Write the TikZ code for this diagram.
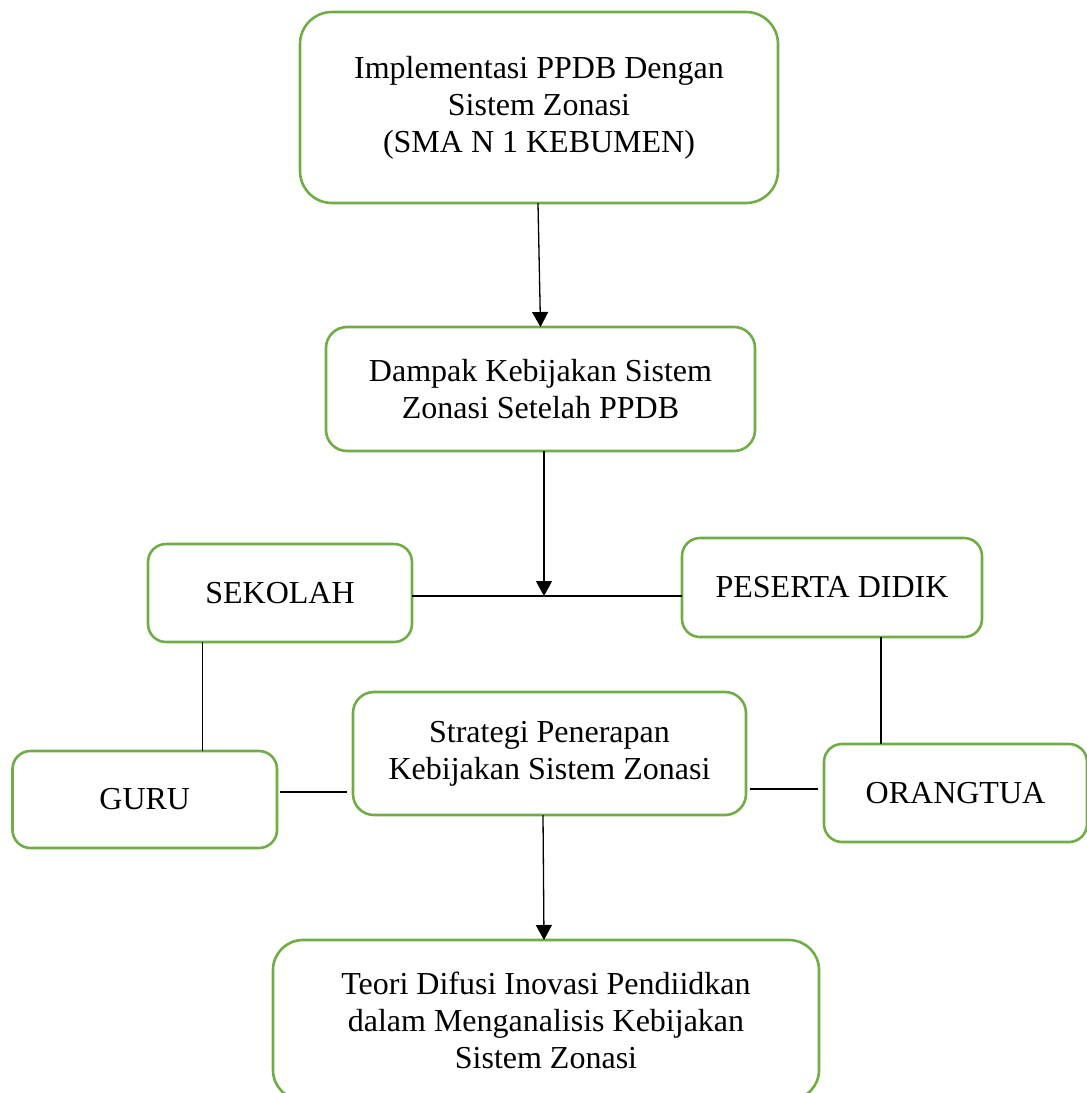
\documentclass[tikz,border=0pt]{standalone}
\usepackage{fontspec}
\setmainfont{Liberation Serif}
\usetikzlibrary{arrows.meta}
\definecolor{boxgreen}{HTML}{70AD47}
\begin{document}
\begin{tikzpicture}[x=1pt,y=-1pt,
  box/.style={draw=boxgreen, line width=2.6pt, rounded corners=#1, inner sep=0pt, outer sep=0pt,
              align=center, font=\fontsize{32}{37}\selectfont, text=black},
  box/.default=18pt,
  link/.style={draw=black, line width=1.3pt},
  arr/.style={link, -{Triangle[width=16pt,length=15pt]}}]
\useasboundingbox (0,0) rectangle (1087,1093);
\clip (0,0) rectangle (1087,1093);

\node[box=32pt, minimum width=478pt, minimum height=191pt] (top) at (539,107.5)
  {Implementasi PPDB Dengan\\Sistem Zonasi\\(SMA N 1 KEBUMEN)};
\node[box=21pt, minimum width=429pt, minimum height=124pt] (dampak) at (540.5,389)
  {Dampak Kebijakan Sistem\\Zonasi Setelah PPDB};
\node[box, minimum width=264pt, minimum height=98pt] (sekolah) at (280,593) {SEKOLAH};
\node[box, minimum width=300pt, minimum height=99pt] (peserta) at (832,587.5) {PESERTA DIDIK};
\node[box=21pt, minimum width=393pt, minimum height=123pt] (strat) at (549.5,753.5)
  {Strategi Penerapan\\Kebijakan Sistem Zonasi};
\node[box, minimum width=264.5pt, minimum height=97pt] (guru) at (144.75,799.5) {GURU};
\node[box, minimum width=263pt, minimum height=98pt] (orang) at (955.5,793) {ORANGTUA};
\node[box=30pt, minimum width=546pt, minimum height=160pt] (teori) at (546,1020)
  {Teori Difusi Inovasi Pendiidkan\\dalam Menganalisis Kebijakan\\Sistem Zonasi};

\coordinate (j) at (544,596);

\draw[arr] ([xshift=-1pt]top.south) -- (dampak.north);
\draw[arr] ([xshift=3.5pt]dampak.south) -- (j);
\draw[link] (sekolah.east |- j) -- (peserta.west |- j);
\draw[link] ([xshift=-77.5pt]sekolah.south) -- ([xshift=57.75pt]guru.north);
\draw[link] ([xshift=49pt]peserta.south) -- ([xshift=-74.5pt]orang.north);
\draw[link] ([shift={(3,-7.5)}]guru.east) -- ([shift={(-6,38.5)}]strat.west);
\draw[link] ([shift={(4,35.5)}]strat.east) -- ([shift={(-6,-4)}]orang.west);
\draw[arr] ([xshift=-6.5pt]strat.south) -- ([xshift=-2pt]teori.north);
\end{tikzpicture}
\end{document}
